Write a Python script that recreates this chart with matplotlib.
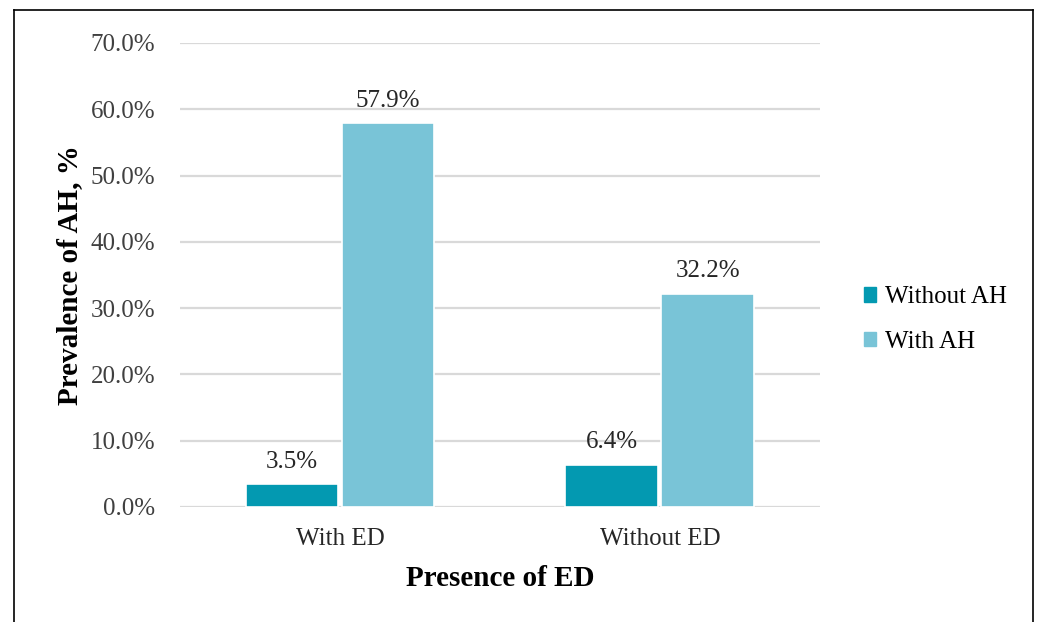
import matplotlib.pyplot as plt
import numpy as np
from matplotlib.lines import Line2D
from matplotlib.patches import Patch

plt.rcParams['font.family'] = ['Liberation Serif', 'DejaVu Serif']

groups = ['With ED', 'Without ED']
series_names = ['Without AH', 'With AH']
without_ah = [3.5, 6.4]
with_ah = [57.9, 32.2]
colors = ['#0399B1', '#79C4D7']

fig = plt.figure(figsize=(10.43, 6.22), dpi=100)
ax = fig.add_axes([0.1726, 0.1849, 0.6134, 0.746])

x = np.arange(len(groups))
w = 0.29
b1 = ax.bar(x - w / 2 - 0.005, without_ah, w, color=colors[0], edgecolor='white', linewidth=1.2, zorder=3)
b2 = ax.bar(x + w / 2 + 0.005, with_ah, w, color=colors[1], edgecolor='white', linewidth=1.2, zorder=3)

for bars, vals in ((b1, without_ah), (b2, with_ah)):
    for rect, v in zip(bars, vals):
        ax.annotate('{:.1f}%'.format(v), (rect.get_x() + rect.get_width() / 2, v),
                    xytext=(0, 8), textcoords='offset points', ha='center', va='bottom',
                    fontsize=18, color='#262626')

ax.set_xlim(-0.5, 1.5)
ax.set_ylim(0, 70)
ax.set_yticks(np.arange(0, 71, 10))
ax.set_yticklabels(['{:.1f}%'.format(t) for t in np.arange(0, 71, 10)], fontsize=18, color='#404040')
ax.set_xticks(x)
ax.set_xticklabels(groups, fontsize=18, color='#262626')
ax.tick_params(axis='y', length=0, pad=18)
ax.tick_params(axis='x', length=0, pad=15)
ax.yaxis.grid(True, color='#D9D9D9', linewidth=1.6, zorder=0)
for s in ax.spines.values():
    s.set_visible(False)

ax.set_xlabel('Presence of ED', fontsize=21, fontweight='bold', labelpad=11)
ax.set_ylabel('Prevalence of AH, %', fontsize=21, fontweight='bold', labelpad=5)

handles = [Patch(color=c) for c in colors]
fig.legend(handles, series_names, loc='center left', bbox_to_anchor=(0.8065, 0.486),
           frameon=False, fontsize=18, handlelength=0.5, handleheight=0.5,
           handletextpad=0.35, labelspacing=0.9)

# thin frame around the figure (open at the bottom)
bx0, bx1, by1 = 14 / 1043, 1033 / 1043, 1 - 10 / 622
for xs, ys in (([bx0, bx0], [0, by1]), ([bx0, bx1], [by1, by1]), ([bx1, bx1], [by1, 0])):
    fig.add_artist(Line2D(xs, ys, color='black', linewidth=1.2, transform=fig.transFigure))

fig.savefig('out.png', dpi=100)
